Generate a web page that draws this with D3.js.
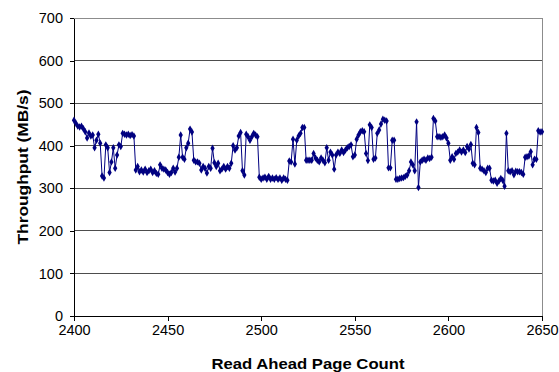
<!DOCTYPE html>
<html>
<head>
<meta charset="utf-8">
<script src="https://cdn.jsdelivr.net/npm/d3@7"></script>
<style>
  body { margin: 0; background: #fff; }
  text { font-family: 'Liberation Sans', Arial, sans-serif; }
</style>
</head>
<body>
<div id="chart"></div>
<script>
let margin = { top: 18, left: 74, right: 17, bottom: 56 }

let width = 559 - margin.left - margin.right
let height = 372 - margin.top - margin.bottom

// page count runs 2400..2650, one reading per page
let firstPage = 2400
let lastPage = 2650
let xTicks = [2400, 2450, 2500, 2550, 2600, 2650]
let yTicks = [0, 100, 200, 300, 400, 500, 600, 700]

let throughput = [
  460, 453, 446, 444, 446, 440, 433, 418, 430, 423,
  425, 395, 413, 427, 406, 329, 324, 402, 395, 337,
  362, 395, 347, 378, 402, 398, 429, 427, 425, 427,
  424, 426, 423, 343, 351, 339, 343, 338, 345, 337,
  341, 345, 337, 341, 335, 333, 355, 347, 345, 343,
  337, 333, 337, 347, 338, 347, 373, 425, 373, 368,
  395, 406, 439, 432, 366, 362, 362, 359, 343, 351,
  347, 336, 351, 347, 394, 360, 351, 359, 341, 345,
  351, 345, 351, 347, 359, 400, 390, 395, 423, 431,
  341, 331, 427, 421, 413, 421, 429, 425, 421, 326,
  321, 324, 326, 321, 328, 321, 324, 321, 325, 321,
  324, 319, 324, 321, 319, 364, 362, 415, 357, 413,
  423, 429, 443, 443, 366, 366, 366, 366, 382, 371,
  366, 362, 371, 366, 360, 395, 366, 385, 378, 345,
  378, 385, 382, 390, 384, 390, 395, 398, 402, 374,
  378, 415, 425, 433, 435, 433, 382, 365, 449, 443,
  368, 371, 429, 437, 451, 462, 460, 458, 348, 348,
  413, 413, 321, 321, 323, 324, 325, 328, 331, 341,
  362, 355, 341, 456, 302, 362, 366, 368, 366, 371,
  370, 373, 464, 458, 421, 421, 420, 421, 425, 418,
  406, 366, 374, 368, 382, 385, 390, 385, 390, 384,
  398, 392, 403, 359, 355, 443, 431, 347, 345, 341,
  337, 347, 347, 319, 317, 319, 312, 317, 323, 319,
  305, 429, 341, 339, 341, 332, 340, 339, 339, 337,
  333, 373, 374, 376, 386, 355, 368, 368, 435, 432,
  433
]

let datapoints = throughput.map((v, i) => ({ page: firstPage + i, value: v }))

let svg = d3
  .select('#chart')
  .append('svg')
  .attr('width', width + margin.left + margin.right)
  .attr('height', height + margin.top + margin.bottom)
  .append('g')
  .attr('transform', `translate(${margin.left},${margin.top})`)

let xScale = d3.scaleLinear().domain([firstPage, lastPage]).range([0, width])
let yScale = d3.scaleLinear().domain([0, 700]).range([height, 0])

// horizontal gridlines
svg
  .selectAll('.grid-line')
  .data(yTicks.slice(1, -1))
  .enter()
  .append('line')
  .attr('class', 'grid-line')
  .attr('x1', 0)
  .attr('x2', width)
  .attr('y1', d => yScale(d))
  .attr('y2', d => yScale(d))
  .attr('stroke', '#4d4d4d')
  .attr('stroke-width', 1)
  .attr('shape-rendering', 'crispEdges')

// plot border, top and right
svg
  .append('path')
  .attr('d', `M0,${yScale(700)}H${width}V${height}`)
  .attr('fill', 'none')
  .attr('stroke', '#8c8c8c')
  .attr('stroke-width', 1)
  .attr('shape-rendering', 'crispEdges')

let xAxis = d3
  .axisBottom(xScale)
  .tickValues(xTicks)
  .tickFormat(d3.format('d'))
  .tickSizeInner(5)
  .tickSizeOuter(0)
  .tickPadding(4)

let yAxis = d3
  .axisLeft(yScale)
  .tickValues(yTicks)
  .tickSizeInner(4)
  .tickSizeOuter(0)
  .tickPadding(7)

svg
  .append('g')
  .attr('class', 'x-axis')
  .attr('transform', `translate(0,${height})`)
  .call(xAxis)

svg
  .append('g')
  .attr('class', 'y-axis')
  .call(yAxis)

svg.selectAll('.x-axis text, .y-axis text')
  .attr('font-size', 14.5)
  .attr('fill', '#000')
svg.selectAll('.domain, .tick line')
  .attr('stroke', '#000')
  .attr('shape-rendering', 'crispEdges')

// the series
let line = d3
  .line()
  .x(d => xScale(d.page))
  .y(d => yScale(d.value))

svg
  .append('path')
  .datum(datapoints)
  .attr('d', line)
  .attr('fill', 'none')
  .attr('stroke', '#000080')
  .attr('stroke-width', 1)

let diamond = d3.symbol().type(d3.symbolDiamond).size(16)

svg
  .selectAll('.marker')
  .data(datapoints)
  .enter()
  .append('path')
  .attr('class', 'marker')
  .attr('d', diamond)
  .attr('transform', d => `translate(${xScale(d.page)},${yScale(d.value)})`)
  .attr('fill', '#000080')

// axis titles (the original text is a bit wider than plain Arial)
svg
  .append('text')
  .text('Read Ahead Page Count')
  .attr('x', width / 2)
  .attr('y', height + 53)
  .attr('text-anchor', 'middle')
  .attr('font-size', 14.5)
  .attr('font-weight', 'bold')
  .attr('textLength', 193)
  .attr('lengthAdjust', 'spacingAndGlyphs')

svg
  .append('text')
  .text('Throughput (MB/s)')
  .attr('transform', `translate(${-46},${height / 2}) rotate(-90)`)
  .attr('text-anchor', 'middle')
  .attr('font-size', 14.5)
  .attr('font-weight', 'bold')
  .attr('textLength', 155)
  .attr('lengthAdjust', 'spacingAndGlyphs')
</script>
</body>
</html>
